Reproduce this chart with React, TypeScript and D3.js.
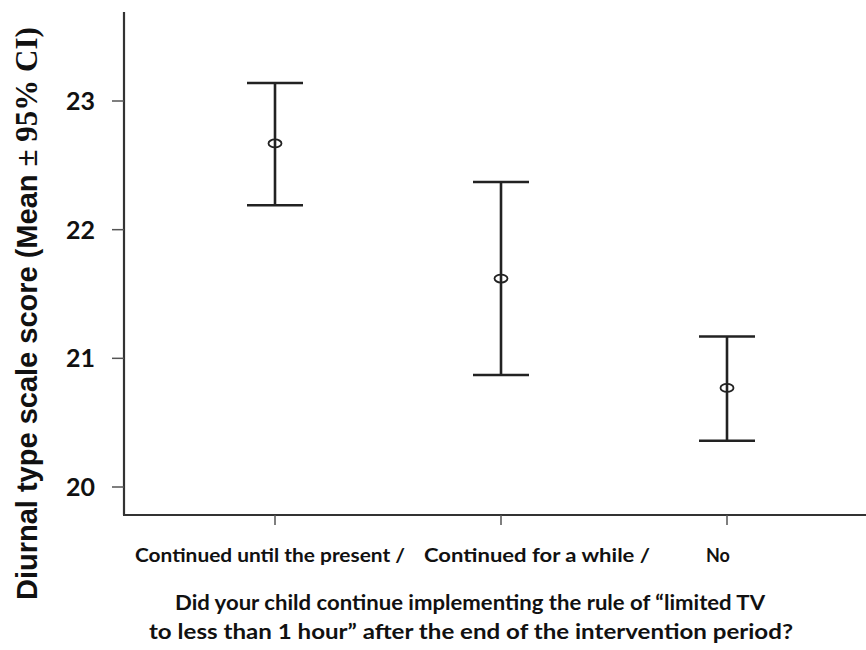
import React from "react";
import * as d3 from "d3";

const categories = ["Continued until the present /", "Continued for a while /", "No"];
const means = [22.67, 21.62, 20.77];
const lowers = [22.19, 20.87, 20.36];
const uppers = [23.14, 22.37, 21.17];
const yTicks = [20, 21, 22, 23];
const yLabelMain = "Diurnal type scale score (Mean ";
const yLabelTail = "± 95% CI)";
const xTitle = ["Did your child continue implementing the rule of “limited TV", "to less than 1 hour” after the end of the intervention period?"];

const W = 866;
const H = 650;
const axisX = 124;
const axisBottom = 515;
const axisTop = 12;
const labelOffsets = [-5, 36, -9];
const labelLengths = [270, 226, 0];
const calibri = "Lato, 'Open Sans', sans-serif";

export default function App() {
  const y = d3.scaleLinear().domain([20, 23]).range([487, 101]);
  const x = d3.scalePoint<string>().domain(categories).range([275, 727]);
  const cap = 28;
  const ink = "#222";
  return (
    <svg width={W} height={H} style={{ position: "absolute", left: 0, top: 0, background: "#fff" }}>
      {/* axes */}
      <line x1={axisX} x2={axisX} y1={axisTop} y2={axisBottom} stroke="#333" strokeWidth={2.2} />
      <line x1={axisX - 1} x2={W} y1={axisBottom} y2={axisBottom} stroke="#333" strokeWidth={2.2} />
      {yTicks.map((t) => (
        <g key={t}>
          <line x1={axisX - 12} x2={axisX} y1={y(t)} y2={y(t)} stroke="#555" strokeWidth={1.5} />
          <text x={95} y={y(t)} dy="0.36em" textAnchor="end" fontFamily={calibri} fontWeight="bold" fontSize={25} fill="#111" textLength={29} lengthAdjust="spacingAndGlyphs">
            {t}
          </text>
        </g>
      ))}
      {categories.map((c, i) => (
        <g key={c}>
          <line x1={x(c)!} x2={x(c)!} y1={axisBottom} y2={axisBottom + 10} stroke="#555" strokeWidth={1.5} />
          <text
            x={(x(c) as number) + labelOffsets[i]}
            y={562}
            textAnchor="middle"
            fontFamily={calibri}
            fontWeight="bold"
            fontSize={18}
            fill="#111"
            {...(labelLengths[i] ? { textLength: labelLengths[i], lengthAdjust: "spacingAndGlyphs" } : {})}
          >
            {c}
          </text>
        </g>
      ))}
      {/* error bars */}
      {categories.map((c, i) => {
        const cx = x(c) as number;
        return (
          <g key={"eb" + c} stroke={ink} strokeWidth={2.6} fill="none">
            <line x1={cx} x2={cx} y1={y(uppers[i])} y2={y(lowers[i])} />
            <line x1={cx - cap} x2={cx + cap} y1={y(uppers[i])} y2={y(uppers[i])} />
            <line x1={cx - cap} x2={cx + cap} y1={y(lowers[i])} y2={y(lowers[i])} />
            <ellipse cx={cx} cy={y(means[i])} rx={6.5} ry={4} fill="none" strokeWidth={1.8} />
          </g>
        );
      })}
      {/* x title */}
      <text x={470} y={610} textAnchor="middle" fontFamily={calibri} fontWeight="bold" fontSize={21} fill="#111" textLength={590} lengthAdjust="spacingAndGlyphs">
        {xTitle[0]}
      </text>
      <text x={471} y={639} textAnchor="middle" fontFamily={calibri} fontWeight="bold" fontSize={21} fill="#111" textLength={644} lengthAdjust="spacingAndGlyphs">
        {xTitle[1]}
      </text>
      {/* y title */}
      <text transform={`translate(37, 600) rotate(-90)`} textAnchor="start" fontWeight="bold" fill="#111">
        <tspan fontFamily="'Liberation Sans', Arial, sans-serif" fontSize={29}>{yLabelMain}</tspan>
        <tspan fontFamily="'Liberation Serif', 'Times New Roman', serif" fontSize={31}>{yLabelTail}</tspan>
      </text>
    </svg>
  );
}
